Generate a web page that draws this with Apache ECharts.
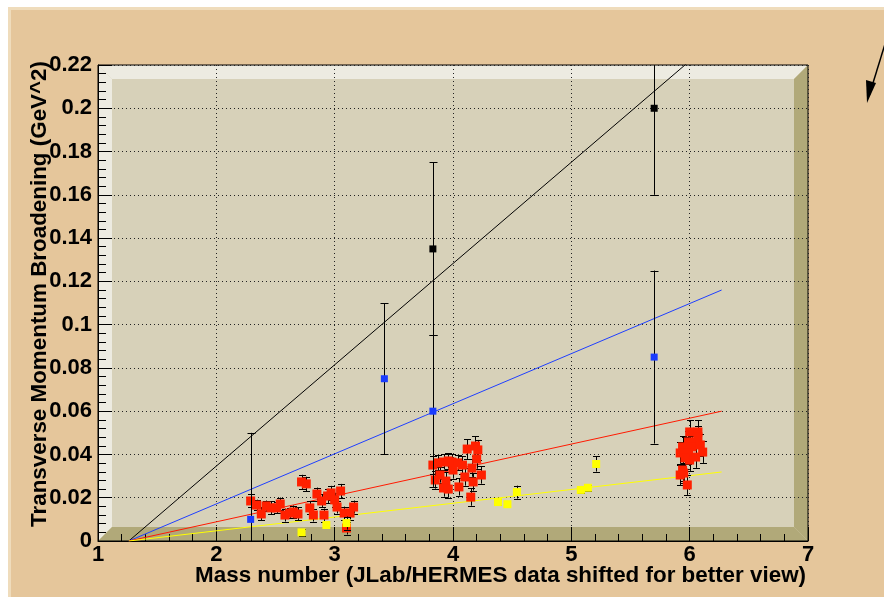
<!DOCTYPE html>
<html><head><meta charset="utf-8">
<script src="https://cdn.jsdelivr.net/npm/echarts@6.0.0/dist/echarts.min.js"></script>
<style>html,body{margin:0;padding:0;background:#fff;} #c{width:884px;height:597px;}</style>
</head><body><div id="c"></div>
<script>
// ---- data ----
const xTickLabels = ['1','2','3','4','5','6','7'];
const yTickLabels = ['0','0.02','0.04','0.06','0.08','0.1','0.12','0.14','0.16','0.18','0.2','0.22'];

const fitX = [1.26, 6.27];
const fitBlack = [0, 0.2345];
const fitBlue = [0, 0.116];
const fitRed = [0, 0.060];
const fitYellow = [0, 0.0319];

const blackX = [3.83, 5.70];
const blackY = [0.135, 0.200];
const blackErr = [0.040, 0.040];

const blueX = [2.29, 3.42, 3.83, 5.70];
const blueY = [0.010, 0.075, 0.060, 0.085];
const blueErr = [0.040, 0.035, 0.035, 0.040];

const yellowX = [2.72, 2.93, 3.10, 4.38, 4.46, 4.54, 5.08, 5.14, 5.21];
const yellowY = [0.0040, 0.0074, 0.0083, 0.0180, 0.0170, 0.0226, 0.0236, 0.0246, 0.0356];
const yellowErr = [0.0015, 0.0015, 0.0030, 0.0015, 0.0015, 0.0030, 0.0015, 0.0015, 0.0035];

const redX = [2.29,2.34,2.38,2.42,2.46,2.51,2.54,2.58,2.62,2.65,2.69,2.72,2.76,2.79,2.82,2.85,2.89,2.91,2.94,2.97,3.00,3.02,3.05,3.08,3.13,3.16,3.10,
  3.83,3.87,3.92,3.96,3.99,4.04,4.08,3.85,3.89,3.94,4.00,3.92,3.96,4.05,4.10,4.16,4.17,4.15,4.24,4.20,4.12,4.19,4.21,
  6.00,6.07,6.07,6.05,5.99,5.94,5.96,6.02,6.09,6.11,5.92,5.99,6.05,6.00,5.96,5.94,5.95,5.92,5.98];
const redY = [0.0185,0.0166,0.0125,0.0162,0.0153,0.0153,0.0171,0.0120,0.0129,0.0134,0.0125,0.0273,0.0264,0.0153,0.0120,0.0217,0.0185,0.0120,0.0208,0.0222,0.0190,0.0157,0.0231,0.0129,0.0129,0.0157,0.0060,
  0.0351,0.0361,0.0365,0.0370,0.0365,0.0361,0.0351,0.0282,0.0305,0.0277,0.0328,0.0245,0.0240,0.0250,0.0296,0.0337,0.0273,0.0203,0.0305,0.0379,0.0425,0.0439,0.0421,
  0.0504,0.0504,0.0481,0.0458,0.0458,0.0435,0.0430,0.0435,0.0444,0.0411,0.0407,0.0407,0.0388,0.0374,0.0384,0.0328,0.0314,0.0305,0.0259];
const redErr = [0.0030,0.0025,0.0030,0.0025,0.0030,0.0025,0.0030,0.0030,0.0025,0.0030,0.0030,0.0033,0.0033,0.0030,0.0030,0.0030,0.0030,0.0030,0.0033,0.0033,0.0033,0.0030,0.0033,0.0030,0.0030,0.0030,0.0030,
  0.0040,0.0035,0.0035,0.0035,0.0035,0.0035,0.0040,0.0040,0.0035,0.0040,0.0040,0.0040,0.0040,0.0040,0.0040,0.0040,0.0040,0.0040,0.0040,0.0045,0.0046,0.0046,0.0046,
  0.0055,0.0055,0.0050,0.0050,0.0050,0.0050,0.0050,0.0050,0.0050,0.0050,0.0050,0.0050,0.0050,0.0050,0.0050,0.0050,0.0046,0.0046,0.0046];

const xAxisTitle = 'Mass number (JLab/HERMES data shifted for better view)';
const yAxisTitle = 'Transverse Momentum Broadening (GeV^2)';

// ---- layout / style ----
const G = {left: 98, top: 65, right: 808, bottom: 541};
const B = 14;
const FONT = 'Liberation Sans, Arial, Helvetica, sans-serif';
const padColor = '#e5c69b';

function pairs(xs, ys) { return xs.map((x, i) => [x, ys[i]]); }

function errSeries(name, xs, ys, es, cap, z) {
  return {
    type: 'custom', name: name, z: z, silent: true, clip: true,
    data: xs.map((x, i) => [x, ys[i] - es[i], ys[i] + es[i]]),
    encode: {x: 0, y: [1, 2]},
    renderItem: function (params, api) {
      const x = api.value(0);
      const pLo = api.coord([x, api.value(1)]);
      const pHi = api.coord([x, api.value(2)]);
      const px = Math.round(pLo[0]) + 0.5;
      const h = cap / 2;
      const st = {stroke: '#000', lineWidth: 1};
      return {type: 'group', children: [
        {type: 'line', shape: {x1: px, y1: pLo[1], x2: px, y2: pHi[1]}, style: st},
        {type: 'line', shape: {x1: px - h, y1: Math.round(pLo[1]) + 0.5, x2: px + h, y2: Math.round(pLo[1]) + 0.5}, style: st},
        {type: 'line', shape: {x1: px - h, y1: Math.round(pHi[1]) + 0.5, x2: px + h, y2: Math.round(pHi[1]) + 0.5}, style: st}
      ]};
    }
  };
}
function ptSeries(name, xs, ys, color, size, z) {
  return {type: 'scatter', name: name, z: z, symbol: 'rect', symbolSize: size,
    itemStyle: {color: color, opacity: 1}, data: pairs(xs, ys), silent: true};
}
function fitSeries(name, ys, color) {
  return {type: 'line', name: name, z: 2, data: pairs(fitX, ys), showSymbol: false, symbol: 'none',
    lineStyle: {color: color, width: 1}, silent: true, clip: true, animation: false};
}

const bevels = [
  // pad
  {type: 'rect', z: -10, shape: {x: 8, y: 7, width: 876, height: 590}, style: {fill: padColor}},
  {type: 'rect', z: -9, shape: {x: 8, y: 7, width: 876, height: 3}, style: {fill: '#efdcbc'}},
  {type: 'rect', z: -9, shape: {x: 8, y: 7, width: 3, height: 590}, style: {fill: '#efdcbc'}},
  // frame interior
  {type: 'rect', z: -8, shape: {x: G.left, y: G.top, width: G.right - G.left, height: G.bottom - G.top}, style: {fill: '#d7d1b9'}},
  // top (light)
  {type: 'polygon', z: -7, shape: {points: [[G.left, G.top], [G.right, G.top], [G.right - B, G.top + B], [G.left + B, G.top + B]]}, style: {fill: '#edebe1'}},
  // left (light)
  {type: 'polygon', z: -7, shape: {points: [[G.left, G.top], [G.left + B, G.top + B], [G.left + B, G.bottom - B], [G.left, G.bottom]]}, style: {fill: '#edebe1'}},
  // bottom (dark)
  {type: 'polygon', z: -7, shape: {points: [[G.left, G.bottom], [G.left + B, G.bottom - B], [G.right - B, G.bottom - B], [G.right, G.bottom]]}, style: {fill: '#b1a979'}},
  // right (dark)
  {type: 'polygon', z: -7, shape: {points: [[G.right, G.top], [G.right, G.bottom], [G.right - B, G.bottom - B], [G.right - B, G.top + B]]}, style: {fill: '#b1a979'}},
  // axis titles
  {type: 'text', z: 5, x: 806, y: 576, style: {text: xAxisTitle, font: 'bold 22.4px ' + FONT, fill: '#000', align: 'right', verticalAlign: 'middle'}},
  {type: 'text', z: 5, x: 40, y: 61, rotation: Math.PI / 2, style: {text: yAxisTitle, font: 'bold 22.4px ' + FONT, fill: '#000', align: 'right', verticalAlign: 'middle'}},
  // arrow
  {type: 'line', z: 5, shape: {x1: 885, y1: 44, x2: 869, y2: 96}, style: {stroke: '#000', lineWidth: 1.5}},
  {type: 'polygon', z: 5, shape: {points: [[867, 103], [866, 80], [876, 83]]}, style: {fill: '#000'}}
];

const chart = echarts.init(document.getElementById('c'), null, {renderer: 'canvas'});
chart.setOption({
  animation: false,
  backgroundColor: 'transparent',
  grid: {left: G.left, top: G.top, width: G.right - G.left, height: G.bottom - G.top,
    show: true, backgroundColor: 'transparent', borderColor: '#000', borderWidth: 1, containLabel: false},
  graphic: {elements: bevels},
  xAxis: {
    type: 'value', min: 1, max: 7, interval: 1,
    axisLine: {show: true, onZero: false, lineStyle: {color: '#000', width: 1}},
    axisTick: {show: true, inside: true, length: 14, lineStyle: {color: '#000'}},
    minorTick: {show: true, splitNumber: 5, length: 7, lineStyle: {color: '#000'}},
    splitLine: {show: true, lineStyle: {color: '#222', width: 1, type: [1, 3]}},
    axisLabel: {color: '#000', fontSize: 22, fontWeight: 'bold', fontFamily: FONT, margin: 3,
      formatter: function (v) { return xTickLabels[Math.round(v - 1)]; }}
  },
  yAxis: {
    type: 'value', min: 0, max: 0.22, interval: 0.02,
    axisLine: {show: true, onZero: false, lineStyle: {color: '#000', width: 1}},
    axisTick: {show: true, inside: true, length: 14, lineStyle: {color: '#000'}},
    minorTick: {show: true, splitNumber: 5, length: 8, lineStyle: {color: '#000'}},
    splitLine: {show: true, lineStyle: {color: '#222', width: 1, type: [1, 3]}},
    axisLabel: {color: '#000', fontSize: 22, fontWeight: 'bold', fontFamily: FONT, margin: 6,
      showMinLabel: true, showMaxLabel: true,
      formatter: function (v) { return yTickLabels[Math.round(v / 0.02)]; }}
  },
  series: [
    fitSeries('fit black', fitBlack, '#000000'),
    fitSeries('fit blue', fitBlue, '#1f3fff'),
    fitSeries('fit red', fitRed, '#ff1a00'),
    fitSeries('fit yellow', fitYellow, '#ffff00'),
    errSeries('red err', redX, redY, redErr, 7, 3),
    ptSeries('JLab', redX, redY, '#ff2000', 9, 4),
    errSeries('yellow err', yellowX, yellowY, yellowErr, 7, 5),
    ptSeries('HERMES', yellowX, yellowY, '#ffff00', 8, 6),
    errSeries('blue err', blueX, blueY, blueErr, 8, 7),
    ptSeries('blue', blueX, blueY, '#1a3cff', 7, 8),
    errSeries('black err', blackX, blackY, blackErr, 8, 9),
    ptSeries('black', blackX, blackY, '#000000', 7, 10)
  ]
});
</script>
</body></html>
